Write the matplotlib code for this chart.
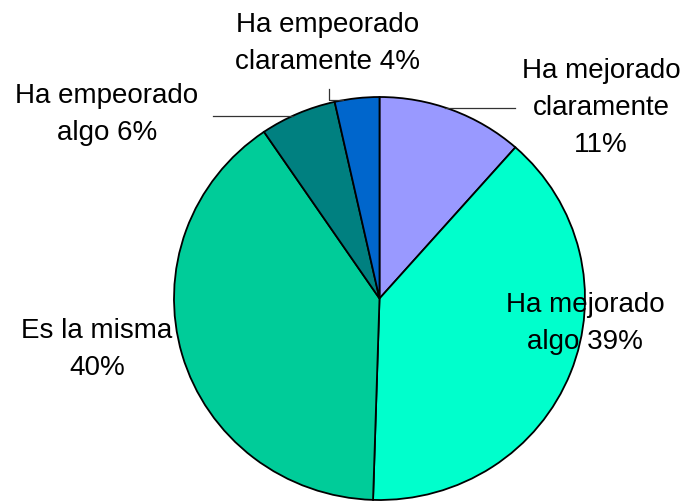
import matplotlib
matplotlib.use("Agg")
import matplotlib.pyplot as plt

# slices, clockwise from 12 o'clock
categories = ["Ha mejorado claramente", "Ha mejorado algo", "Es la misma",
              "Ha empeorado algo", "Ha empeorado claramente"]
shares = [11.5, 39.0, 40.0, 6.0, 3.5]      # angular share
pct_labels = [11, 39, 40, 6, 4]           # percentages printed on the chart
colors = ["#9999FF", "#00FFCC", "#00CC99", "#008080", "#0066CC"]

label_text = [
    "Ha mejorado\nclaramente\n%d%%" % pct_labels[0],
    "Ha mejorado\nalgo %d%%" % pct_labels[1],
    "Es la misma\n%d%%" % pct_labels[2],
    "Ha empeorado\nalgo %d%%" % pct_labels[3],
    "Ha empeorado\nclaramente %d%%" % pct_labels[4],
]
label_pos = [(1.078, 0.951), (1.0, -0.117), (-1.375, -0.246),
             (-1.326, 0.92), (-0.251, 1.268)]

W, H = 687, 502
fig = plt.figure(figsize=(W / 100, H / 100), dpi=100)
fig.patch.set_facecolor("white")

# pie spans x 174..585 px and y 98..501 px
ax = fig.add_axes([174 / W, (H - 501) / H, 411 / W, 403 / H])
ax.pie(shares, colors=colors, startangle=90, counterclock=False,
       radius=1.0, wedgeprops=dict(edgecolor="black", linewidth=1.3))
ax.set_aspect("auto")
ax.set_xlim(-1, 1)
ax.set_ylim(-1, 1)
ax.axis("off")

for txt, (x, y) in zip(label_text, label_pos):
    ax.text(x, y, txt, ha="center", va="center", fontsize=20,
            family="Liberation Sans", linespacing=1.55, clip_on=False)

# leader lines
lk = dict(color="#333333", linewidth=0.9, clip_on=False)
ax.plot([0.32, 0.659], [0.945, 0.945], **lk)
ax.plot([-0.42, -0.81], [0.906, 0.906], **lk)
ax.plot([-0.246, -0.246, -0.178], [1.04, 0.985, 0.985], **lk)

fig.savefig("out.png", dpi=100)
